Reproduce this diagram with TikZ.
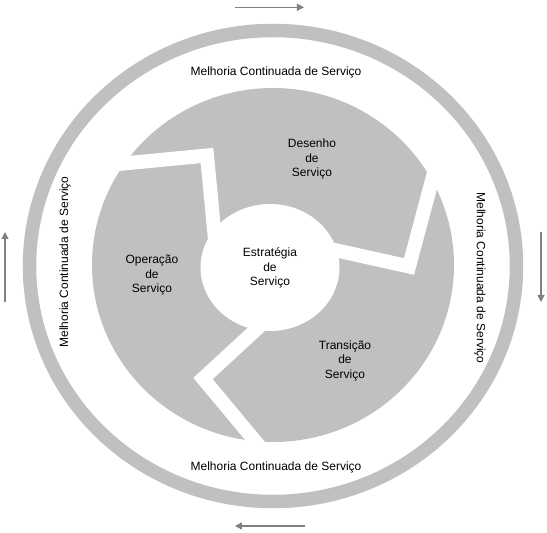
\documentclass[tikz,border=0pt]{standalone}
\usepackage{fontspec}
\setmainfont{Liberation Sans}
\usetikzlibrary{arrows.meta}
\definecolor{ringgray}{RGB}{192,192,192}
\definecolor{arrowgray}{RGB}{128,128,128}

\begin{document}
\begin{tikzpicture}[x=1pt,y=1pt,
  lbl/.style={align=center,font=\fontsize{12}{14.5}\selectfont,inner sep=0pt},
  gap/.style={draw=white,line width=14pt},
  flow/.style={draw=arrowgray,line width=1.3pt,-{Triangle[length=7pt,width=7pt]}}]
\useasboundingbox (-273,-267) rectangle (274,266);
\draw[ringgray,line width=13.5pt] (0,0) ellipse [x radius=243.5,y radius=235.5];
\fill[ringgray] (0,1) ellipse [x radius=181,y radius=177];
\draw[gap] (-186,99) -- (-66,110.5) -- (-57,16);
\draw[gap] (46,19.5) -- (136,-0.5) -- (167,115.5);
\draw[gap] (0,-48) -- (-70,-112.5) -- (10,-208.5);
\fill[white] (-3,-1.5) ellipse [x radius=69.5,y radius=63.5];

\node[lbl] (est) at (-3,-2) {Estratégia\\de\\Serviço};
\node[lbl] (des) at (39,107) {Desenho\\de\\Serviço};
\node[lbl] (tra) at (72,-94.5) {Transição\\de\\Serviço};
\node[lbl] (ope) at (-121,-9) {Operação\\de\\Serviço};

\node[lbl] (mtop) at (3,194) {Melhoria Continuada de Serviço};
\node[lbl] (mbot) at (3,-201) {Melhoria Continuada de Serviço};
\node[lbl,rotate=90] (mlft) at (-208,4) {Melhoria Continuada de Serviço};
\node[lbl,rotate=-90] (mrgt) at (207,-12) {Melhoria Continuada de Serviço};

\coordinate (t1) at (-38,258.7);
\coordinate (t2) at (31,258.7);
\coordinate (r1) at (268,34);
\coordinate (r2) at (268,-36);
\coordinate (b1) at (32,-260);
\coordinate (b2) at (-38,-260);
\coordinate (l1) at (-268,-36);
\coordinate (l2) at (-268,34);
\draw[flow] (t1) -- (t2);
\draw[flow] (r1) -- (r2);
\draw[flow] (b1) -- (b2);
\draw[flow] (l1) -- (l2);
\end{tikzpicture}
\end{document}
